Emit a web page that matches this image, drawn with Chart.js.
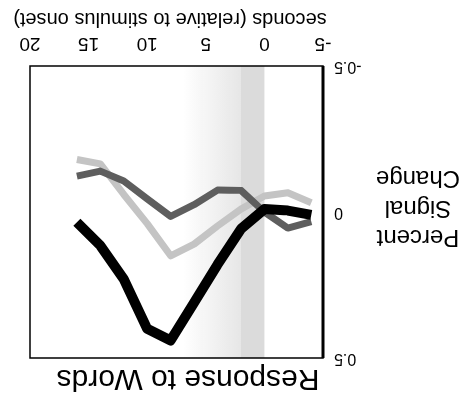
<!DOCTYPE html>
<html>
<head>
<meta charset="utf-8">
<script src="https://cdn.jsdelivr.net/npm/chart.js@4.4.1/dist/chart.umd.min.js"></script>
<style>
  html, body { margin: 0; padding: 0; background: #fff; }
  #wrap { width: 471px; height: 400px; transform: rotate(180deg); transform-origin: 50% 50%; }
</style>
</head>
<body>
<div id="wrap"><canvas id="c" width="471" height="400"></canvas></div>
<script>
// ---- data (picture is printed upside down) ----
const chartTitle = "Response to Words";
const xTitle = "seconds (relative to stimulus onset)";
const yTitleLines = ["Percent", "Signal", "Change"];
const times = [-4, -2, 0, 2, 4, 6, 8, 10, 12, 14, 16];
const blackSeries = [0.01, -0.005, -0.01, 0.058, 0.18, 0.31, 0.44, 0.40, 0.23, 0.115, 0.035];
const darkSeries = [0.033, 0.055, 0.0, -0.074, -0.075, -0.025, 0.015, -0.045, -0.106, -0.14, -0.123];
const lightSeries = [-0.032, -0.066, -0.055, -0.01, 0.048, 0.11, 0.15, 0.04, -0.06, -0.165, -0.18];
const xTicks = [-5, 0, 5, 10, 15, 20];
const yTicks = [-0.5, 0, 0.5];
const denseShade = [0, 2];
const sparseShade = [2, 7];

const FONT = "'Liberation Sans', Arial, Helvetica, sans-serif";

const pts = (vals) => times.map((t, i) => ({ x: t, y: vals[i] }));

const decor = {
  id: 'decor',
  beforeDatasetsDraw(chart) {
    const { ctx, chartArea: a, scales: { x } } = chart;
    ctx.save();
    const d0 = x.getPixelForValue(denseShade[0]), d1 = x.getPixelForValue(denseShade[1]);
    ctx.fillStyle = 'rgba(190,190,190,0.55)';
    ctx.fillRect(d0, a.top, d1 - d0, a.bottom - a.top);
    const s0 = x.getPixelForValue(sparseShade[0]), s1 = x.getPixelForValue(sparseShade[1]);
    const g = ctx.createLinearGradient(s0, 0, s1, 0);
    g.addColorStop(0, 'rgba(200,200,200,0.45)');
    g.addColorStop(1, 'rgba(200,200,200,0.0)');
    ctx.fillStyle = g;
    ctx.fillRect(s0, a.top, s1 - s0, a.bottom - a.top);
    ctx.restore();
  },
  afterDatasetsDraw(chart) {
    const { ctx, chartArea: a } = chart;
    ctx.save();
    ctx.strokeStyle = '#000';
    ctx.lineWidth = 1.5;
    ctx.strokeRect(a.left, a.top, a.right - a.left, a.bottom - a.top);
    ctx.lineWidth = 3;
    ctx.beginPath();
    ctx.moveTo(a.left, a.top);
    ctx.lineTo(a.left, a.bottom);
    ctx.stroke();
    ctx.restore();
  },
  afterDraw(chart) {
    const { ctx } = chart;
    ctx.save();
    ctx.fillStyle = '#000';
    ctx.textAlign = 'center';
    ctx.textBaseline = 'middle';
    ctx.font = "30px " + FONT;
    ctx.fillText(chartTitle, 283, 22);
    ctx.font = "20px " + FONT;
    ctx.fillText(xTitle, 301, 381);
    ctx.font = "24px " + FONT;
    const ys = [163, 192, 222];
    yTitleLines.forEach((s, i) => ctx.fillText(s, 53, ys[i]));
    ctx.restore();
  }
};

new Chart(document.getElementById('c'), {
  type: 'line',
  data: {
    datasets: [
      { label: 'black', data: pts(blackSeries), borderColor: '#000', borderWidth: 10, order: 0 },
      { label: 'dark', data: pts(darkSeries), borderColor: '#5e5e5e', borderWidth: 7, order: 1 },
      { label: 'light', data: pts(lightSeries), borderColor: '#c4c4c4', borderWidth: 7, order: 2 }
    ]
  },
  options: {
    responsive: false,
    animation: false,
    devicePixelRatio: 1,
    layout: { padding: { top: 42, right: 30, left: 0, bottom: 0 } },
    elements: {
      point: { radius: 0 },
      line: { tension: 0, borderJoinStyle: 'round', borderCapStyle: 'butt' }
    },
    plugins: { legend: { display: false }, tooltip: { enabled: false }, title: { display: false } },
    scales: {
      x: {
        type: 'linear', min: -5, max: 20,
        afterFit(s) { s.height = 66; },
        afterBuildTicks(s) { s.ticks = xTicks.map(v => ({ value: v })); },
        grid: { display: false },
        border: { display: false },
        ticks: { color: '#000', font: { size: 19, family: FONT }, padding: 3 }
      },
      y: {
        type: 'linear', min: -0.5, max: 0.5,
        afterFit(s) { s.width = 148; },
        afterBuildTicks(s) { s.ticks = yTicks.map(v => ({ value: v })); },
        grid: { display: false },
        border: { display: false },
        ticks: { color: '#000', font: { size: 16, family: FONT }, padding: 3,
                 callback: (v) => String(v) }
      }
    }
  },
  plugins: [decor]
});
</script>
</body>
</html>
